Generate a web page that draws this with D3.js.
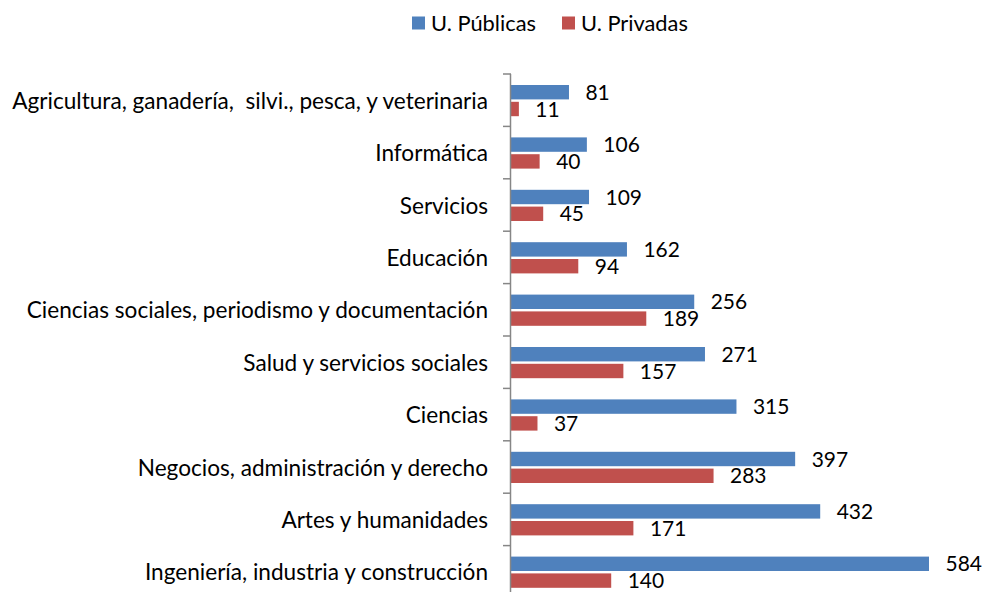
<!DOCTYPE html>
<html>
<head>
<meta charset="utf-8">
<script src="https://cdn.jsdelivr.net/npm/d3@7"></script>
<style>
  html, body { margin: 0; padding: 0; background: #fff; }
  svg text { font-family: Lato, "Open Sans", sans-serif; fill: #000; }
</style>
</head>
<body>
<svg id="chart" width="982" height="592"></svg>
<script>
// Categories, top to bottom
const categories = [
    "Agricultura, ganadería,  silvi., pesca, y veterinaria",
    "Informática",
    "Servicios",
    "Educación",
    "Ciencias sociales, periodismo y documentación",
    "Salud y servicios sociales",
    "Ciencias",
    "Negocios, administración y derecho",
    "Artes y humanidades",
    "Ingeniería, industria y construcción"
];
const publicas = [81, 106, 109, 162, 256, 271, 315, 397, 432, 584];
const privadas = [11, 40, 45, 94, 189, 157, 37, 283, 171, 140];
const seriesNames = ["U. Públicas", "U. Privadas"];
const seriesColors = ["#4F81BD", "#C0504D"];

const svg = d3.select("#chart");
svg.append("rect").attr("width", 982).attr("height", 592).attr("fill", "#fff");

// fit font sizes to widths measured on the original
function fitSize(str, target) {
    const probe = svg.append("text").attr("font-size", 20)
        .style("white-space", "pre").text(str);
    const w = probe.node().getComputedTextLength();
    probe.remove();
    return 20 * target / w;
}
const fontSize = fitSize(categories[0], 476);
const numSize = fitSize("584", 36.5);
const legendSize = fitSize("U. Públicas", 105);

const axisX = 511;
const x = d3.scaleLinear().domain([0, 584]).range([axisX, 929]);
const y = d3.scaleBand().domain(categories).range([74, 598]);
const sub = d3.scaleBand().domain([0, 1]).range([11, 42.2]).paddingInner(0.143);

const rows = categories.map((c, i) => ({ cat: c, vals: [publicas[i], privadas[i]] }));

const g = svg.append("g");

// bars
const row = g.selectAll("g.row").data(rows).enter().append("g")
    .attr("class", "row")
    .attr("transform", d => `translate(0,${y(d.cat)})`);

row.selectAll("rect").data(d => d.vals).enter().append("rect")
    .attr("x", axisX)
    .attr("y", (d, j) => sub(j))
    .attr("width", d => x(d) - axisX)
    .attr("height", sub.bandwidth())
    .attr("fill", (d, j) => seriesColors[j]);

// value labels
row.selectAll("text.val").data(d => d.vals).enter().append("text")
    .attr("class", "val")
    .attr("x", d => x(d) + 16.5)
    .attr("y", (d, j) => sub(j) + sub.bandwidth() / 2)
    .attr("dy", "0.36em")
    .attr("font-size", numSize)
    .text(d => d);

// category axis
const axis = svg.append("g");
axis.append("line")
    .attr("x1", axisX - 0.5).attr("x2", axisX - 0.5)
    .attr("y1", y.range()[0]).attr("y2", y.range()[1])
    .attr("stroke", "#868686").attr("stroke-width", 1.5);
axis.selectAll("line.tick").data(categories.concat([null])).enter().append("line")
    .attr("class", "tick")
    .attr("x1", axisX - 8).attr("x2", axisX)
    .attr("y1", (d, i) => y.range()[0] + i * y.step())
    .attr("y2", (d, i) => y.range()[0] + i * y.step())
    .attr("stroke", "#868686").attr("stroke-width", 1.5);
axis.selectAll("text").data(categories).enter().append("text")
    .attr("x", 488)
    .attr("y", d => y(d) + y.bandwidth() / 2 + 0.5)
    .attr("dy", "0.36em")
    .attr("text-anchor", "end")
    .attr("font-size", fontSize)
    .style("white-space", "pre")
    .text(d => d);

// legend
const legendX = [412, 562];
const legend = svg.append("g");
seriesNames.forEach((name, j) => {
    legend.append("rect")
        .attr("x", legendX[j]).attr("y", 16.5)
        .attr("width", 13).attr("height", 13)
        .attr("fill", seriesColors[j]);
    legend.append("text")
        .attr("x", legendX[j] + 19).attr("y", 23)
        .attr("dy", "0.36em")
        .attr("font-size", legendSize)
        .text(name);
});
</script>
</body>
</html>
